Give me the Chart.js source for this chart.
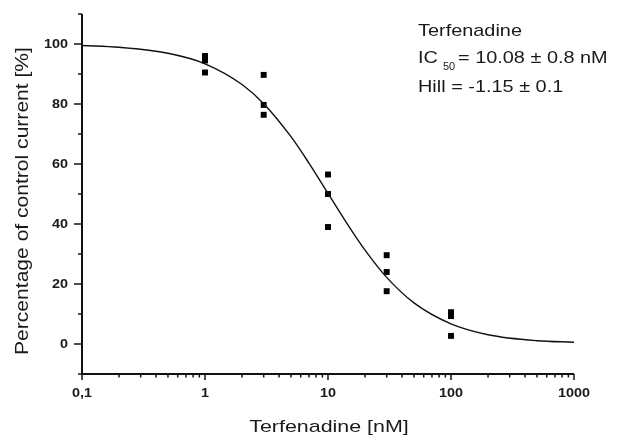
<!DOCTYPE html>
<html>
<head>
<meta charset="utf-8">
<script src="https://cdn.jsdelivr.net/npm/chart.js@4.4.1/dist/chart.umd.min.js"></script>
<style>
  html, body { margin: 0; padding: 0; background: #fff; }
  #wrap { width: 617px; height: 437px; }
</style>
</head>
<body>
<div id="wrap"><canvas id="grafica" width="617" height="437"></canvas></div>
<script>
// measured points (concentration in nM, % of control current)
const concentraciones = [1, 1, 1, 3, 3, 3, 10, 10, 10, 30, 30, 30, 100, 100, 100];
const porcentajes = [96, 94.5, 90.5, 89.7, 79.7, 76.4, 56.5, 50, 39, 29.6, 24, 17.6, 10.6, 9.3, 2.7];

// fitted curve
const curvaX = [0.1, 0.2, 0.5, 1, 2, 3, 5, 7, 10, 15, 20, 30, 50, 100, 200, 500, 1000];
const curvaY = [99.5, 98.9, 96.9, 93.4, 86.5, 80.1, 69.1, 60.3, 50.2, 38.8, 31.3, 22.2, 13.7, 6.7, 3.1, 1.1, 0.6];

const xTicks = [0.1, 1, 10, 100, 1000];
const xTickLabels = ["0,1", "1", "10", "100", "1000"];
const yTicks = [0, 20, 40, 60, 80, 100];

const puntos = concentraciones.map((c, i) => ({x: c, y: porcentajes[i]}));
const curva = curvaX.map((c, i) => ({x: c, y: curvaY[i]}));

const colorTexto = "#1a1a1a";
const fuente = "Arial, 'Liberation Sans', sans-serif";

// text stretched along its direction (the original font runs wide)
function texto(ctx, str, x, y, escala, angulo) {
    ctx.save();
    ctx.translate(x, y);
    if (angulo) ctx.rotate(angulo);
    ctx.scale(escala, 1);
    ctx.fillText(str, 0, 0);
    ctx.restore();
}

// axes, ticks and the annotation, drawn by hand
const ejesPlugin = {
    id: "ejes",
    afterDraw(chart) {
        const ctx = chart.ctx;
        const xs = chart.scales.x;
        const ys = chart.scales.y;
        const area = chart.chartArea;
        ctx.save();
        ctx.strokeStyle = "#111";
        ctx.lineWidth = 2;
        ctx.beginPath();
        ctx.moveTo(area.left, area.top);
        ctx.lineTo(area.left, area.bottom);
        ctx.lineTo(area.right, area.bottom);
        ctx.stroke();

        ctx.lineWidth = 1.5;
        ctx.fillStyle = colorTexto;
        ctx.font = "bold 12px " + fuente;
        // x ticks
        ctx.textAlign = "center";
        ctx.textBaseline = "middle";
        for (let d = 0; d < xTicks.length; d++) {
            const px = xs.getPixelForValue(xTicks[d]);
            ctx.beginPath();
            ctx.moveTo(px, area.bottom);
            ctx.lineTo(px, area.bottom + 6);
            ctx.stroke();
            texto(ctx, xTickLabels[d], px, 394, 1.2);
            if (d < xTicks.length - 1) {
                for (let m = 2; m <= 9; m++) {
                    const pm = xs.getPixelForValue(xTicks[d] * m);
                    ctx.beginPath();
                    ctx.moveTo(pm, area.bottom);
                    ctx.lineTo(pm, area.bottom + 3.5);
                    ctx.stroke();
                }
            }
        }
        // y ticks
        ctx.textAlign = "right";
        for (let v = ys.min; v <= ys.max; v += 10) {
            const py = ys.getPixelForValue(v);
            const mayor = yTicks.includes(v);
            ctx.beginPath();
            ctx.moveTo(area.left, py);
            ctx.lineTo(area.left - (mayor ? 8 : 4), py);
            ctx.stroke();
            if (mayor) texto(ctx, String(v), 68, py + 0.5, 1.2);
        }

        // axis titles
        ctx.font = "17px " + fuente;
        ctx.textAlign = "center";
        ctx.textBaseline = "alphabetic";
        texto(ctx, "Terfenadine [nM]", 329, 432, 1.26);
        ctx.font = "18px " + fuente;
        texto(ctx, "Percentage of control current [%]", 28, 201, 1.17, -Math.PI / 2);

        // annotation
        ctx.textAlign = "left";
        ctx.font = "17px " + fuente;
        const x0 = 418;
        texto(ctx, "Terfenadine", x0, 36, 1.17);
        texto(ctx, "IC", x0, 63, 1.17);
        ctx.font = "10px " + fuente;
        texto(ctx, "50", 443, 70, 1.1);
        ctx.font = "17px " + fuente;
        texto(ctx, "= 10.08 ± 0.8 nM", 458, 63, 1.17);
        texto(ctx, "Hill = -1.15 ± 0.1", x0, 92, 1.17);
        ctx.restore();
    }
};

const grafica = new Chart("grafica", {
    type: "scatter",
    data: {
        datasets: [
            {
                label: "Ajuste",
                data: curva,
                showLine: true,
                borderColor: "#111",
                borderWidth: 1.4,
                pointRadius: 0,
                cubicInterpolationMode: "monotone",
                fill: false
            },
            {
                label: "Terfenadine",
                data: puntos,
                pointStyle: "rect",
                pointRadius: 4.2,
                backgroundColor: "#000",
                borderColor: "#000",
                borderWidth: 0
            }
        ]
    },
    plugins: [ejesPlugin],
    options: {
        responsive: false,
        animation: false,
        layout: {padding: {top: 14, right: 43, left: 0, bottom: 0}},
        scales: {
            x: {
                type: "logarithmic",
                min: 0.1,
                max: 1000,
                grid: {display: false},
                border: {display: false},
                ticks: {display: false},
                afterFit(scale) { scale.height = 63; }
            },
            y: {
                min: -10,
                max: 110,
                grid: {display: false},
                border: {display: false},
                ticks: {display: false},
                afterFit(scale) { scale.width = 82; }
            }
        },
        plugins: {
            legend: {display: false},
            tooltip: {enabled: false}
        }
    }
});
</script>
</body>
</html>
